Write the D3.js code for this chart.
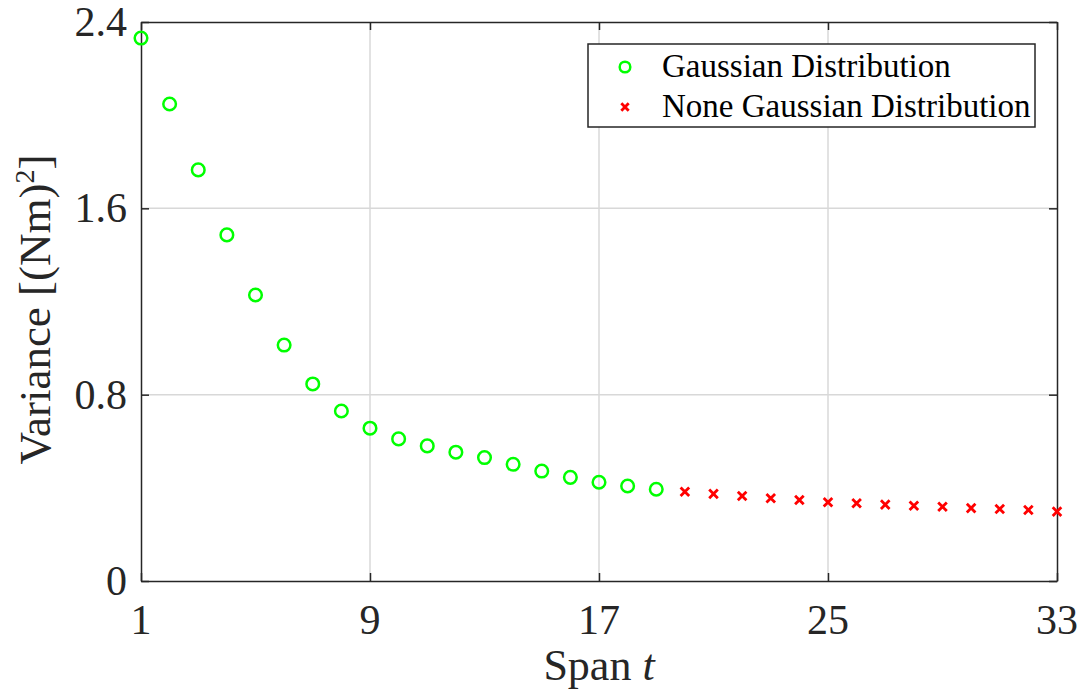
<!DOCTYPE html>
<html>
<head>
<meta charset="utf-8">
<script src="https://cdn.jsdelivr.net/npm/d3@7"></script>
<style>
  body { margin: 0; background: #fff; }
  svg { display: block; }
  text { font-family: "Times New Roman", "Liberation Serif", Tinos, "DejaVu Serif", "Noto Serif", serif; }
  .tick-label { fill: #262626; }
</style>
</head>
<body>
<svg id="chart"></svg>
<script>
// data
const gaussSpan = [1, 2, 3, 4, 5, 6, 7, 8, 9, 10, 11, 12, 13, 14, 15, 16, 17, 18, 19];
const gaussVar = [2.331, 2.048, 1.765, 1.486, 1.228, 1.013, 0.846, 0.730, 0.656, 0.610,
                  0.580, 0.553, 0.530, 0.501, 0.472, 0.445, 0.424, 0.408, 0.394];
const nonGaussSpan = [20, 21, 22, 23, 24, 25, 26, 27, 28, 29, 30, 31, 32, 33];
const nonGaussVar = [0.383, 0.374, 0.365, 0.355, 0.348, 0.338, 0.334, 0.328, 0.323,
                     0.319, 0.313, 0.309, 0.305, 0.298];
const xTicks = [1, 9, 17, 25, 33];
const yTicks = [0, 0.8, 1.6, 2.4];
const legendLabels = ["Gaussian Distribution", "None Gaussian Distribution"];

const width = 1084;
const height = 697;
const margin = { top: 22, right: 27, bottom: 116, left: 141 };
const axisColor = "#262626";

const svg = d3.select("#chart")
  .attr("width", width)
  .attr("height", height);

const x = d3.scaleLinear()
  .domain([1, 33])
  .range([margin.left, width - margin.right]);

const y = d3.scaleLinear()
  .domain([0, 2.4])
  .range([height - margin.bottom, margin.top]);

// grid
svg.append("g")
  .selectAll("line")
  .data(xTicks.slice(1, -1))
  .enter().append("line")
  .attr("x1", d => x(d)).attr("x2", d => x(d))
  .attr("y1", y(0)).attr("y2", y(2.4))
  .attr("stroke", "#d8d8d8")
  .attr("stroke-width", 1.5);

svg.append("g")
  .selectAll("line")
  .data(yTicks.slice(1, -1))
  .enter().append("line")
  .attr("x1", x(1)).attr("x2", x(33))
  .attr("y1", d => y(d)).attr("y2", d => y(d))
  .attr("stroke", "#d8d8d8")
  .attr("stroke-width", 1.5);

// axes with inward ticks
const styleAxis = g => {
  g.select(".domain").attr("stroke", axisColor).attr("stroke-width", 1.5);
  g.selectAll(".tick line").attr("stroke", axisColor).attr("stroke-width", 1.5);
  g.selectAll("text").remove();
};

svg.append("g")
  .attr("transform", `translate(0, ${y(0)})`)
  .call(d3.axisBottom(x).tickValues(xTicks).tickSize(-8).tickSizeOuter(0))
  .call(styleAxis);

svg.append("g")
  .attr("transform", `translate(0, ${y(2.4)})`)
  .call(d3.axisTop(x).tickValues(xTicks).tickSize(-8).tickSizeOuter(0))
  .call(styleAxis);

svg.append("g")
  .attr("transform", `translate(${x(1)}, 0)`)
  .call(d3.axisLeft(y).tickValues(yTicks).tickSize(-8).tickSizeOuter(0))
  .call(styleAxis);

svg.append("g")
  .attr("transform", `translate(${x(33)}, 0)`)
  .call(d3.axisRight(y).tickValues(yTicks).tickSize(-8).tickSizeOuter(0))
  .call(styleAxis);

// tick labels
svg.append("g")
  .selectAll("text")
  .data(xTicks)
  .enter().append("text")
  .attr("class", "tick-label")
  .attr("x", d => x(d))
  .attr("y", y(0) + 53)
  .attr("text-anchor", "middle")
  .style("font-size", "42px")
  .text(d => d);

svg.append("g")
  .selectAll("text")
  .data(yTicks)
  .enter().append("text")
  .attr("class", "tick-label")
  .attr("x", x(1) - 14)
  .attr("y", d => y(d) + 14)
  .attr("text-anchor", "end")
  .style("font-size", "42px")
  .text(d => d);

// axis titles
const xTitle = svg.append("text")
  .attr("class", "tick-label")
  .attr("x", (x(1) + x(33)) / 2)
  .attr("y", 680)
  .attr("text-anchor", "middle")
  .style("font-size", "44px");
xTitle.append("tspan").text("Span ");
xTitle.append("tspan").style("font-style", "italic").text("t");

const yTitle = svg.append("text")
  .attr("class", "tick-label")
  .attr("transform", `translate(50, ${(y(0) + y(2.4)) / 2 + 8}) rotate(-90)`)
  .attr("text-anchor", "middle")
  .style("font-size", "45px");
yTitle.append("tspan").text("Variance [(Nm)");
yTitle.append("tspan").attr("dy", -16).style("font-size", "28px").text("2");
yTitle.append("tspan").attr("dy", 16).text("]");

// markers
const crossPath = s => `M${-s},${-s}L${s},${s}M${-s},${s}L${s},${-s}`;

svg.append("g")
  .selectAll("circle")
  .data(gaussSpan.map((s, i) => ({ s, v: gaussVar[i] })))
  .enter().append("circle")
  .attr("cx", d => x(d.s))
  .attr("cy", d => y(d.v))
  .attr("r", 6.3)
  .attr("fill", "none")
  .attr("stroke", "#00ff00")
  .attr("stroke-width", 2.5);

svg.append("g")
  .selectAll("path")
  .data(nonGaussSpan.map((s, i) => ({ s, v: nonGaussVar[i] })))
  .enter().append("path")
  .attr("transform", d => `translate(${x(d.s)}, ${y(d.v)})`)
  .attr("d", crossPath(4.3))
  .attr("stroke", "#ff0000")
  .attr("stroke-width", 2.8);

// legend
const legend = svg.append("g");
legend.append("rect")
  .attr("x", 588).attr("y", 44)
  .attr("width", 447).attr("height", 83)
  .attr("fill", "#fff")
  .attr("stroke", axisColor)
  .attr("stroke-width", 1.5);

legend.append("circle")
  .attr("cx", 625).attr("cy", 67)
  .attr("r", 5.3)
  .attr("fill", "none")
  .attr("stroke", "#00ff00")
  .attr("stroke-width", 2.5);

legend.append("path")
  .attr("transform", "translate(625, 107)")
  .attr("d", crossPath(3.7))
  .attr("stroke", "#ff0000")
  .attr("stroke-width", 2.8);

legend.selectAll("text.leg")
  .data(legendLabels)
  .enter().append("text")
  .attr("class", "leg")
  .attr("x", 662)
  .attr("y", (d, i) => 77 + i * 40)
  .style("font-size", "33px")
  .attr("fill", "#000")
  .text(d => d);
</script>
</body>
</html>
